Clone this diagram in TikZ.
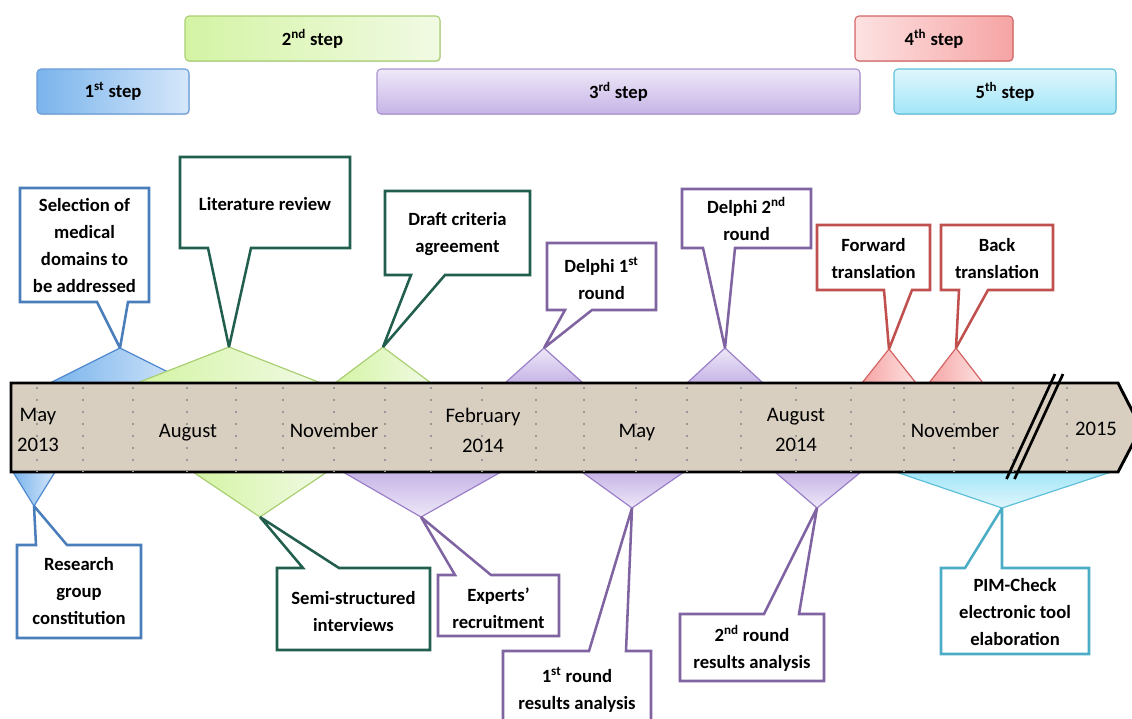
\documentclass[tikz,border=0pt]{standalone}
\usepackage{fontspec}
\setmainfont{Carlito}
\usetikzlibrary{shadows}
\definecolor{cBlue}{HTML}{4A7EBB}
\definecolor{cGreen}{HTML}{215E4E}
\definecolor{cPurple}{HTML}{8064A2}
\definecolor{cRed}{HTML}{C0504D}
\definecolor{cCyan}{HTML}{4BACC6}
\definecolor{bandc}{HTML}{D8CFC0}
\definecolor{tBlueD}{HTML}{7AB4EC}
\definecolor{tBlueL}{HTML}{D6E7FA}
\definecolor{tBlueE}{HTML}{4F8AD0}
\definecolor{tGreenD}{HTML}{D4F4A4}
\definecolor{tGreenL}{HTML}{F1FAE4}
\definecolor{tGreenE}{HTML}{A9CF72}
\definecolor{tPurD}{HTML}{C6B4E6}
\definecolor{tPurL}{HTML}{EEE8F8}
\definecolor{tPurE}{HTML}{9A7FC8}
\definecolor{tRedD}{HTML}{F6A4A4}
\definecolor{tRedL}{HTML}{FDE2E2}
\definecolor{tRedE}{HTML}{D46464}
\definecolor{tCyaD}{HTML}{A2E6F8}
\definecolor{tCyaL}{HTML}{E0F6FC}
\definecolor{tCyaE}{HTML}{5EC0D8}
\begin{document}
\begin{tikzpicture}[x=0.75pt,y=-0.75pt,
  call/.style={line width=1.9pt, fill=white, line join=miter, miter limit=3},
  ctext/.style={align=center, font=\fontsize{14}{20.25}\selectfont\bfseries, inner sep=0pt},
  stepbox/.style={rounded corners=3pt, line width=0.8pt, inner sep=0pt,
    font=\fontsize{14}{17}\selectfont\bfseries,
    drop shadow={opacity=0.25,shadow xshift=0.6pt,shadow yshift=-0.9pt}},
  tri/.style={line width=0.9pt, line join=miter},
  month/.style={align=center, font=\fontsize{15.5}{22.5}\selectfont, inner sep=0pt},
  tick/.style={draw=gray!80, line width=1.5pt, dash pattern=on 1.5pt off 7.5pt},
]
\useasboundingbox (0,0) rectangle (1132,718);

% ---------- step boxes ----------
\node[stepbox, draw=tBlueE!85, left color=tBlueD, right color=tBlueL,
  minimum width=114pt, minimum height=33.75pt] (s1) at (113,91.5) {1\textsuperscript{st} step};
\node[stepbox, draw=tGreenE, left color=tGreenD, right color=tGreenL,
  minimum width=191.25pt, minimum height=33.75pt] (s2) at (312.5,38.5) {2\textsuperscript{nd} step};
\node[stepbox, draw=tPurE!85, top color=tPurL, bottom color=tPurD,
  minimum width=362.25pt, minimum height=33.75pt] (s3) at (618.5,91.5) {3\textsuperscript{rd} step};
\node[stepbox, draw=tRedE, left color=tRedL, right color=tRedD,
  minimum width=118.5pt, minimum height=33.75pt] (s4) at (934,38.5) {4\textsuperscript{th} step};
\node[stepbox, draw=tCyaE, top color=tCyaL, bottom color=tCyaD,
  minimum width=166.5pt, minimum height=33.75pt] (s5) at (1005,91.5) {5\textsuperscript{th} step};

% ---------- apex coordinates ----------
\coordinate (aSel) at (120,348);
\coordinate (aLit) at (229,347);
\coordinate (aDraft) at (383,347);
\coordinate (aD1) at (544,348);
\coordinate (aD2) at (725,348);
\coordinate (aFwd) at (889,349);
\coordinate (aBack) at (956,348);
\coordinate (aRes) at (34,506);
\coordinate (aSemi) at (260,517);
\coordinate (aExp) at (421,517);
\coordinate (aR1) at (632,508);
\coordinate (aR2) at (817,508);
\coordinate (aPim) at (1002,508);

% ---------- upper triangles ----------
\path[left color=tBlueD, right color=tBlueL] (50,383) -- (aSel) -- (190,383) -- cycle;
\draw[tri, draw=tBlueE] (50,383) -- (aSel) -- (190,383);
\path[left color=tGreenD, right color=tGreenL] (137,383) -- (aLit) -- (321,383) -- cycle;
\draw[tri, draw=tGreenE] (137,383) -- (aLit) -- (321,383);
\path[left color=tGreenD, right color=tGreenL] (335,383) -- (aDraft) -- (431,383) -- cycle;
\draw[tri, draw=tGreenE] (335,383) -- (aDraft) -- (431,383);
\path[top color=tPurL, bottom color=tPurD] (505,383) -- (aD1) -- (583,383) -- cycle;
\draw[tri, draw=tPurE] (505,383) -- (aD1) -- (583,383);
\path[top color=tPurL, bottom color=tPurD] (687,383) -- (aD2) -- (763,383) -- cycle;
\draw[tri, draw=tPurE] (687,383) -- (aD2) -- (763,383);
\path[left color=tRedD, right color=tRedL] (862,383) -- (aFwd) -- (916,383) -- cycle;
\draw[tri, draw=tRedE] (862,383) -- (aFwd) -- (916,383);
\path[left color=tRedD, right color=tRedL] (929,383) -- (aBack) -- (983,383) -- cycle;
\draw[tri, draw=tRedE] (929,383) -- (aBack) -- (983,383);

% ---------- lower triangles ----------
\path[left color=tBlueD, right color=tBlueL] (13,472) -- (aRes) -- (55,472) -- cycle;
\draw[tri, draw=tBlueE] (13,472) -- (aRes) -- (55,472);
\path[left color=tGreenD, right color=tGreenL] (193,472) -- (aSemi) -- (327,472) -- cycle;
\draw[tri, draw=tGreenE] (193,472) -- (aSemi) -- (327,472);
\path[top color=tPurD, bottom color=tPurL] (343,472) -- (aExp) -- (501,472) -- cycle;
\draw[tri, draw=tPurE] (343,472) -- (aExp) -- (501,472);
\path[top color=tPurD, bottom color=tPurL] (582,472) -- (aR1) -- (684,472) -- cycle;
\draw[tri, draw=tPurE] (582,472) -- (aR1) -- (684,472);
\path[top color=tPurD, bottom color=tPurL] (775,472) -- (aR2) -- (861,472) -- cycle;
\draw[tri, draw=tPurE] (775,472) -- (aR2) -- (861,472);
\path[top color=tCyaD, bottom color=tCyaL] (896,472) -- (aPim) -- (1111,472) -- cycle;
\draw[tri, draw=tCyaE] (896,472) -- (aPim) -- (1111,472);

% ---------- timeline band ----------
\draw[line width=2.2pt, fill=bandc, line join=miter]
  (11,383) -- (1118,383) -- (1141,428) -- (1118,472) -- (11,472) -- cycle;
\foreach \x in {37,83,133,187,236,283,334,385,431,482,536,584,636,687,741,796,851,904,954,1013,1067}
  \draw[tick] (\x,387) -- (\x,472);
\node[month] (m1) at (38,430) {May\\2013};
\node[month] (m2) at (188,432.5) {August};
\node[month] (m3) at (334,430) {November};
\node[month] (m4) at (483,430) {February\\2014};
\node[month] (m5) at (637,432.5) {May};
\node[month] (m6) at (796,430) {August\\2014};
\node[month] (m7) at (955,430) {November};
\node[month] (m8) at (1096,428.5) {2015};
\draw[line width=2pt] (1055,374) -- (1006.5,479);
\draw[line width=2pt] (1063,374) -- (1014.5,479);

% ---------- upper callouts ----------
\draw[call, draw=cBlue] (20,188) -- (149,188) -- (149,302) -- (128,302) -- (aSel) -- (97,302) -- (20,302) -- cycle;
\node[ctext] (sel) at (84.5,246) {Selection of\\medical\\domains to\\be addressed};
\draw[call, draw=cGreen] (180,157) -- (350,157) -- (350,248) -- (251,248) -- (aLit) -- (208,248) -- (180,248) -- cycle;
\node[ctext] (lit) at (265,204) {Literature review};
\draw[call, draw=cGreen] (385,191) -- (530,191) -- (530,275) -- (445,275) -- (aDraft) -- (411,275) -- (385,275) -- cycle;
\node[ctext] (draft) at (457.5,234) {Draft criteria\\agreement};
\draw[call, draw=cPurple] (547,243) -- (656,243) -- (656,310) -- (592,310) -- (aD1) -- (565,310) -- (547,310) -- cycle;
\node[ctext] (d1) at (601.5,278) {Delphi 1\textsuperscript{st}\\round};
\draw[call, draw=cPurple] (682,189) -- (811,189) -- (811,248) -- (735,248) -- (aD2) -- (703,248) -- (682,248) -- cycle;
\node[ctext] (d2) at (746.5,219) {Delphi 2\textsuperscript{nd}\\round};
\draw[call, draw=cRed] (817,225) -- (930,225) -- (930,290) -- (912,290) -- (aFwd) -- (884,290) -- (817,290) -- cycle;
\node[ctext] (fwd) at (873.5,258.5) {Forward\\translation};
\draw[call, draw=cRed] (941,225) -- (1053,225) -- (1053,290) -- (988,290) -- (aBack) -- (959,290) -- (941,290) -- cycle;
\node[ctext] (back) at (997,258.5) {Back\\translation};

% ---------- lower callouts ----------
\draw[call, draw=cBlue] (17,545) -- (36,545) -- (aRes) -- (67,545) -- (141,545) -- (141,638) -- (17,638) -- cycle;
\node[ctext] (res) at (79,591.5) {Research\\group\\constitution};
\draw[call, draw=cGreen] (277,568) -- (303,568) -- (aSemi) -- (339,568) -- (430,568) -- (430,650) -- (277,650) -- cycle;
\node[ctext] (semi) at (353.5,611.5) {Semi-structured\\interviews};
\draw[call, draw=cPurple] (438,575) -- (455,575) -- (aExp) -- (491,575) -- (559,575) -- (559,636) -- (438,636) -- cycle;
\node[ctext] (exp) at (498.5,608) {Experts’\\recruitment};
\draw[call, draw=cPurple] (503,651) -- (589,651) -- (aR1) -- (626,651) -- (651,651) -- (651,730) -- (503,730) -- cycle;
\node[ctext] (r1) at (577,689.5) {1\textsuperscript{st} round\\results analysis};
\draw[call, draw=cPurple] (680,614) -- (764,614) -- (aR2) -- (799,614) -- (824,614) -- (824,681) -- (680,681) -- cycle;
\node[ctext] (r2) at (752,648) {2\textsuperscript{nd} round\\results analysis};
\draw[call, draw=cCyan] (941,568) -- (965,568) -- (aPim) -- (1002,568) -- (1089,568) -- (1089,654) -- (941,654) -- cycle;
\node[ctext] (pim) at (1015,612) {PIM-Check\\electronic tool\\elaboration};
\end{tikzpicture}
\end{document}
